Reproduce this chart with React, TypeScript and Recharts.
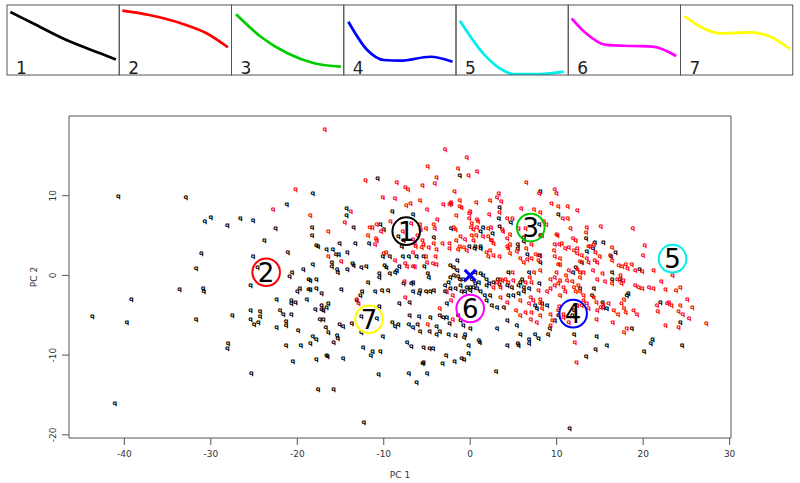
import React from 'react';
import { ScatterChart, Scatter, XAxis, YAxis, ReferenceArea, LineChart, Line } from 'recharts';

// ---- top panel curves: [x fraction, y fraction] ----
const curve1: number[][] = [[0.03, 0.9], [0.23, 0.74], [0.53, 0.5], [0.83, 0.31], [0.97, 0.22]];
const curve2: number[][] = [[0.03, 0.92], [0.27, 0.857], [0.57, 0.729], [0.78, 0.596], [0.97, 0.396]];
const curve3: number[][] = [[0.036, 0.867], [0.256, 0.547], [0.494, 0.31], [0.732, 0.167], [0.97, 0.119]];
const curve4: number[][] = [[0.039, 0.761], [0.207, 0.357], [0.355, 0.214], [0.503, 0.204], [0.769, 0.261], [0.967, 0.19]];
const curve5: number[][] = [[0.035, 0.776], [0.242, 0.31], [0.39, 0.096], [0.508, 0.014], [0.745, 0.014], [0.96, 0.047]];
const curve6: number[][] = [[0.032, 0.81], [0.16, 0.596], [0.34, 0.429], [0.577, 0.414], [0.755, 0.404], [0.964, 0.271]];
const curve7: number[][] = [[0.03, 0.843], [0.172, 0.69], [0.35, 0.596], [0.619, 0.61], [0.797, 0.547], [0.97, 0.371]];
const panelCurves = [curve1, curve2, curve3, curve4, curve5, curve6, curve7];
const clusterIds = ['1', '2', '3', '4', '5', '6', '7'];
const clusterColors = ['#000000', '#ff0000', '#00cd00', '#0000ff', '#00eeee', '#ff00ff', '#ffff00'];

// ---- cluster centre annotations (PC1, PC2) ----
const centreX = [-7.4, -23.6, 7.0, 11.9, 23.4, 0.0, -11.7];
const centreY = [5.55, 0.4, 6.0, -4.8, 2.1, -4.15, -5.5];
const originX = [0];
const originY = [0];

// ---- axis ticks ----
const xTicks = [-40, -30, -20, -10, 0, 10, 20, 30];
const yTicks = [-20, -10, 0, 10];

// ---- scores: group A (black) ----
const blackPts: number[][] = [
  [-40.7, 9.9], [-32.9, 9.8], [-30.7, 6.8], [-30.0, 7.2], [-28.1, 6.2], [-26.6, 7.1], [-25.1, 6.9], [-23.8, 4.4], [-31.1, 2.7], [-31.7, 0.9], [-25.1, 2.4], [-24.6, 1.0], [-33.6, -1.8], [-30.9, -1.7], [-30.8, -2.0], [-39.2, -3.0], [-25.4, -1.3],
  [-43.7, -5.2], [-39.7, -5.9], [-31.7, -5.6], [-27.5, -5.0], [-25.4, -4.4], [-25.4, -5.6], [-25.0, -6.2], [-24.5, -5.9], [-24.3, -4.6], [-24.3, -5.2], [-28.0, -8.6], [-28.1, -9.2], [-25.3, -12.3], [-41.1, -16.1],
  [-18.2, 10.2], [-21.2, 8.9], [-22.5, 5.9], [-18.3, 6.0], [-18.3, 5.0], [-17.8, 3.7], [-14.3, 8.4], [-14.3, 7.5], [-13.5, 6.0], [-15.1, 4.0], [-13.3, 4.0], [-10.7, 12.1], [-9.0, 8.0], [-6.6, 7.6], [-10.4, 6.3], [-10.0, 5.7], [-8.3, 4.8], [-4.2, 4.7], [-11.7, 4.0],
  [-21.1, 2.9], [-17.6, 3.6], [-16.6, 3.2], [-15.9, 3.2], [-15.5, 2.6], [-15.2, 2.6], [-14.2, 2.8], [-16.0, 1.6], [-16.0, 1.1], [-15.4, 0.7], [-15.3, 0.4], [-14.2, 0.7], [-13.6, 1.5], [-13.5, 1.2], [-12.6, 1.0], [-12.0, 1.1], [-18.2, 1.3], [-20.6, 0.3], [-20.9, -0.2], [-19.3, 0.7], [-18.7, -0.5], [-18.5, -0.7], [-17.8, -0.6], [-19.7, -1.7], [-20.0, -2.1], [-18.7, -1.8], [-18.5, -1.8], [-17.8, -1.7], [-17.2, -2.3], [-14.9, -1.8], [-12.7, -2.6], [-12.5, -2.1], [-11.8, -0.9], [-10.5, 0.2], [-10.5, -0.3], [-9.7, 1.0], [-9.9, 1.2], [-9.3, 0.2], [-8.7, 0.4], [-8.5, 0.6], [-8.2, 1.1], [-10.1, 2.4], [-9.3, 2.4], [-7.8, 2.4], [-7.1, 2.4], [-6.2, 2.4], [-5.3, 1.1], [-4.9, 0.2], [-4.8, -0.3], [-5.4, 2.4], [-7.7, 4.4], [-7.9, 3.6], [-1.2, 12.5], [-2.2, 9.0], [3.4, 8.5],
  [-22.4, -3.1], [-20.7, -3.2], [-20.7, -3.6], [-20.2, -3.4], [-18.9, -3.1], [-17.2, -3.8], [-16.4, -3.5], [-13.1, -3.2], [-8.2, -3.5], [-7.0, -3.4], [-6.6, -2.1], [-5.9, -2.3], [-5.1, -2.1], [-4.6, -2.1], [-4.2, -1.9], [-11.0, -2.1], [-10.2, -1.9], [-9.5, -1.9], [-7.7, -1.1], [-6.8, -1.1], [-6.6, -0.9], [-5.8, -1.9], [-16.6, -4.0],
  [-22.4, -6.5], [-22.0, -4.4], [-21.6, -4.9], [-20.7, -4.9], [-21.3, -5.8], [-21.3, -6.3], [-19.9, -7.0], [-21.3, -8.8], [-20.5, -10.8], [-19.6, -8.8], [-18.5, -8.6], [-18.2, -7.7], [-17.8, -8.1], [-17.9, -4.3], [-17.2, -4.3], [-17.0, -4.4], [-17.4, -5.6], [-17.0, -5.6], [-16.7, -6.5], [-16.4, -7.2], [-15.8, -8.5], [-15.4, -7.6], [-15.3, -7.9], [-16.6, -10.1], [-17.8, -10.6], [-15.1, -6.2], [-14.7, -6.4], [-13.7, -6.1], [-12.6, -5.2], [-12.6, -7.2], [-10.8, -5.4], [-10.5, -3.9], [-10.1, -7.7], [-12.4, -9.1], [-11.3, -9.6], [-11.5, -10.1], [-10.4, -9.6], [-8.7, -6.4], [-8.3, -6.2], [-9.0, -5.9], [-7.1, -6.2], [-6.6, -6.5], [-6.1, -6.2], [-5.8, -7.1], [-4.7, -7.1], [-7.3, -8.5], [-6.8, -8.9], [-5.4, -9.1], [-4.7, -9.2], [-4.3, -9.2], [-5.4, -11.0], [-3.9, -6.4], [-3.9, -7.4], [-7.0, -5.1], [-5.9, -5.2], [-4.6, -5.3],
  [-17.6, -14.3], [-15.8, -14.4], [-12.3, -18.5], [-10.6, -12.4], [-7.1, -12.3], [-5.0, -12.3], [-6.2, -13.5], [-5.5, -11.1], [-3.2, -11.1], [-1.8, -10.8], [-2.8, -10.1], [-1.0, -10.4], [-0.7, -10.6], [-0.2, -9.8], [3.0, -12.1], [-16.5, -10.2], [-14.7, -10.4],
  [11.5, -19.2], [13.4, -10.2], [20.1, -9.6], [24.5, -8.8], [14.5, -9.3], [15.8, -8.8], [20.9, -8.6], [21.1, -8.1], [14.6, -7.7], [9.0, -7.5], [7.5, -7.4], [7.9, -7.9], [6.8, -8.1], [6.8, -8.6], [18.7, -6.7], [24.3, -5.9], [22.0, -3.4], [12.0, -7.4],
  [8.1, 10.5], [10.2, 7.6], [3.3, 7.1], [3.4, 6.1], [4.7, 6.6], [-2.2, 5.9], [1.5, 6.0], [1.2, 5.5], [2.6, 5.2], [6.2, 4.7], [8.0, 6.4], [13.4, 4.6], [14.4, 4.1], [15.4, 4.1], [-0.1, 3.6], [0.6, 3.6], [1.2, 3.6], [5.5, 3.8], [6.2, 4.2], [8.1, 5.0],
  [16.3, 2.4], [16.8, 2.8], [18.3, -2.3], [18.1, -2.6],
  [0.5, 3.4], [1.2, 3.3], [5.5, 3.3], [6.6, 2.6], [8.0, 2.5], [8.1, 1.6], [12.9, 1.6], [13.5, 3.0], [14.2, 3.3], [19.6, 0.7], [16.4, 0.3], [17.3, -0.5], [16.4, -0.5], [11.9, 0.4], [12.2, 1.0], [6.8, 0.4], [6.0, -0.5], [5.8, -0.9], [6.2, -1.5], [5.6, -1.3], [8.0, -1.1], [4.4, 0.4], [3.2, -0.5], [3.4, -1.2], [4.3, -1.3], [4.8, -1.5],
  [1.2, 0.2], [1.5, 0.0], [1.9, -0.5], [2.2, -1.1], [2.7, -0.9], [1.9, -1.3], [0.6, 0.4], [0.2, -0.5], [0.6, -1.0], [1.0, -0.9], [0.4, -1.5], [0.0, -1.5], [-0.4, -1.5], [0.8, -1.7], [-1.5, 1.8], [-2.3, 1.2], [-1.9, 1.0], [-1.5, 0.6], [-1.9, 0.0], [-2.3, -0.3], [-1.4, -0.1], [-1.2, -0.5], [-0.8, -0.5], [-2.5, -0.9], [-2.9, -1.3], [-1.1, -1.3], [-1.7, -1.7], [-2.3, -1.7],
  [-2.9, -2.1], [-2.7, -3.6], [-1.0, -2.1], [-0.6, -2.1], [0.0, -1.9], [1.2, -2.1], [1.7, -2.5], [2.3, -2.6], [1.9, -3.2], [2.5, -3.8], [3.1, -4.0], [3.9, -4.0], [4.4, -2.6], [5.0, -2.6], [5.6, -2.3], [6.2, -2.1], [6.8, -1.7], [7.5, -3.8], [7.7, -4.2], [8.3, -3.5], [8.9, -3.8], [12.7, -1.7], [11.8, -5.1], [12.0, -4.4], [14.3, -1.7], [14.1, -2.6], [15.3, -3.4], [15.4, -4.0], [15.8, -4.2],
  [-3.5, -5.1], [-3.1, -5.3], [-2.7, -5.3], [-2.4, -6.1], [-2.5, -7.4], [-3.5, -7.1], [-1.4, -5.1], [-1.1, -5.7], [-0.8, -6.3], [-0.6, -7.5], [-0.7, -7.8], [-1.7, -7.6], [0.0, -6.7], [1.0, -8.2], [1.1, -8.4], [-0.2, -8.8], [3.1, -6.7], [4.3, -5.7], [5.4, -6.3], [5.8, -7.4], [5.5, -8.6], [5.6, -8.8], [4.3, -8.8], [10.2, -5.1], [9.8, -5.7], [9.2, -6.7],
];

// ---- scores: group B (red) ----
const redPts: number[][] = [
  [-16.8, 18.3], [-20.2, 10.7], [-22.8, 8.2], [-18.5, 7.5], [-16.4, 5.5], [-13.8, 8.0], [-14.5, 6.6], [-12.1, 11.9], [-10.1, 9.8], [-8.7, 9.6], [-8.5, 11.6], [-7.5, 11.0], [-7.2, 10.8], [-6.9, 9.0], [-5.8, 9.4], [-5.5, 11.3], [-4.9, 13.6], [-3.9, 12.2], [-4.1, 11.5], [-5.0, 8.3], [-3.8, 7.0], [-11.6, 6.0], [-11.3, 6.0], [-10.8, 6.3], [-10.3, 5.5], [-9.2, 6.7], [-11.8, 5.0], [-10.8, 4.4], [-7.8, 5.5], [-5.8, 6.3], [-5.7, 5.7], [-5.1, 5.9], [-4.2, 6.3], [-4.1, 5.9], [-6.1, 5.0], [-11.0, 3.9], [-6.4, 4.0], [-5.4, 3.8], [-4.2, 4.0],
  [-16.4, 2.4], [-14.9, 1.7], [-10.9, 4.6], [-8.7, 1.8], [-9.7, 2.8], [-10.0, 2.7], [-6.6, 2.9], [-7.5, 1.5], [-7.3, 1.1], [-6.6, 1.1], [-6.4, 1.1], [-5.0, 1.6], [-4.3, 1.5], [-3.9, 1.3], [-5.1, 2.3], [-4.0, 2.4], [-3.9, 3.2], [-4.8, 3.5], [-5.6, 3.5], [-5.5, 4.3], [-6.3, 3.6], [-6.6, 4.5], [-6.8, 6.5], [-7.4, 8.8],
  [-2.9, 15.8], [-0.4, 14.8], [-1.4, 13.4], [-0.2, 12.5], [0.8, 13.0], [-1.8, 10.5], [-3.1, 8.9], [-2.4, 8.9], [-2.2, 9.1], [-1.2, 8.6], [-1.0, 8.5], [-1.2, 9.4], [-0.1, 7.8], [0.7, 9.1], [2.3, 9.4], [3.1, 9.8], [3.3, 10.3], [3.6, 9.3], [6.5, 11.6],
  [-12.9, -3.6], [-7.5, -2.8], [-7.6, -0.8], [-4.9, -6.2], [-3.5, -4.2], [-2.0, -5.6], [5.3, -4.4], [4.3, -3.4], [-13.1, -3.0],
  [8.0, 10.3], [9.8, 10.7], [10.0, 10.3], [9.4, 9.0], [10.2, 8.6], [11.3, 8.6], [12.4, 8.1], [10.7, 7.1], [11.3, 7.1], [5.9, 8.4], [7.4, 8.2], [8.1, 7.9], [2.2, 7.6], [0.0, 8.0], [0.8, 7.0], [0.9, 6.7], [-0.1, 7.1], [0.2, 6.5], [4.3, 7.1], [4.9, 7.1], [-1.9, 6.0], [-1.7, 5.7], [-1.1, 4.8], [-0.6, 4.5], [0.1, 6.0], [0.4, 5.7], [0.8, 6.0], [2.1, 5.9], [2.4, 6.0], [0.2, 5.0], [0.7, 5.0], [0.4, 4.4], [3.7, 5.7], [3.8, 5.5], [2.5, 4.4], [2.7, 4.0],
  [6.4, 5.9], [8.5, 6.7], [8.8, 6.3], [8.3, 5.0], [10.0, 5.1], [10.1, 5.0], [9.8, 3.9], [10.3, 3.8], [10.6, 4.0], [11.6, 5.9], [11.9, 4.6], [12.2, 4.4], [13.5, 6.0], [13.4, 5.4], [15.1, 6.1], [18.8, 5.8], [14.3, 3.9], [13.9, 3.6], [13.7, 3.6], [20.2, 3.7], [-3.2, 4.0], [-2.4, 4.0], [-1.6, 4.3], [-1.2, 3.6], [4.3, 3.6], [4.6, 3.8], [7.1, 3.9], [1.5, 4.9], [2.1, 4.8], [2.4, 4.4], [3.4, 7.9], [4.3, 4.6], [4.6, 5.1], [5.6, 5.9], [-1.6, 7.5],
  [-2.4, 3.3], [-1.4, 3.2], [-0.4, 3.1], [-0.7, 3.5], [1.9, 2.9], [2.3, 3.1], [2.7, 2.5], [3.4, 2.3], [2.1, 2.4], [4.4, 3.4], [4.6, 2.7], [5.4, 3.0], [6.5, 3.3], [5.8, 2.1], [6.2, 1.6], [6.6, 2.0], [7.1, 2.1], [7.6, 2.6], [7.9, 1.8], [8.1, 2.5], [9.7, 3.1], [9.8, 2.3], [10.4, 2.1], [10.2, 1.3], [11.0, 3.3], [11.4, 3.5], [12.0, 3.1], [12.4, 3.3], [12.4, 2.7], [12.9, 2.5], [12.7, 1.7], [13.5, 2.1], [13.7, 1.6], [14.4, 1.8], [14.5, 2.8], [14.7, 1.6], [15.0, 2.3], [16.2, 2.5], [16.4, 1.8], [17.2, 1.2], [17.6, 1.1], [18.0, 1.3], [18.7, 1.4], [16.4, 3.5], [20.0, 2.5], [19.9, 0.5], [19.1, 0.6], [23.4, 0.0],
  [17.4, 0.0], [17.7, -0.7], [18.2, 0.9], [14.2, 0.6], [15.3, 0.2], [14.7, -0.5], [15.6, -0.8], [12.4, 0.7], [12.7, 0.4], [13.1, 0.3], [12.7, -0.3], [11.4, 0.6], [11.1, 0.0], [11.2, -0.7], [11.8, -0.8], [12.5, -1.3], [10.0, 0.4], [9.8, -0.3], [9.3, -0.5], [10.4, -0.7], [10.4, 1.4], [8.1, 0.6], [7.4, 0.3], [6.9, -0.3], [7.1, -0.9], [6.4, -0.9], [4.9, 0.4], [5.0, -0.7], [4.4, -0.9], [4.1, -0.5], [3.5, -0.5], [3.1, -0.9], [3.5, -1.5], [3.7, -0.7], [2.7, -1.5],
  [-2.7, -2.1], [-2.0, -2.5], [-2.2, -3.2], [3.5, -2.8], [7.0, -2.8], [7.3, -3.2], [8.1, -3.0], [5.8, -3.2], [7.9, -1.9], [8.9, -2.1], [9.3, -1.7], [9.8, -1.3], [10.2, -1.1], [10.8, -1.5], [11.0, -2.1], [10.4, -2.6], [12.0, -1.5], [12.2, -2.1], [12.7, -2.1], [13.1, -2.6], [13.1, -3.2], [13.5, -3.6], [12.9, -3.8], [13.7, -4.2], [12.4, -3.8], [14.3, -2.8], [14.6, -3.4], [14.7, -4.4], [17.8, -3.0], [25.1, -3.0],
  [7.0, -5.5], [7.1, -4.7], [8.1, -5.1], [9.3, -4.9], [9.5, -5.7], [9.3, -6.3], [5.8, -5.1], [6.4, -4.7], [6.8, -3.6], [10.2, -4.4], [10.8, -4.9], [10.8, -5.3], [11.4, -5.9], [8.1, -3.6], [8.3, -4.2], [7.7, -5.9], [10.3, -3.9], [16.0, -3.5],
  [22.1, -0.8], [22.6, -1.8], [23.8, -1.9], [21.2, 0.6], [20.7, -1.6], [21.2, -1.7], [19.1, -1.3], [19.5, -1.5], [19.9, -1.7], [17.5, -1.1], [17.0, -0.5], [16.4, -1.1], [24.3, -1.6],
  [12.3, -10.9], [12.1, -8.4], [17.8, -7.2], [18.1, -6.7], [16.5, -5.9], [14.6, -5.5], [22.6, -6.3], [24.1, -6.5], [27.3, -6.0], [25.3, -5.4], [24.6, -4.9], [24.1, -4.6], [24.3, -3.8], [25.7, -4.0], [23.3, -3.8], [22.8, -3.6], [23.0, -3.4], [21.7, -4.5], [21.6, -3.8], [19.3, -4.9], [18.9, -4.4], [18.0, -4.7], [17.8, -4.2], [17.1, -4.9], [16.6, -4.4], [17.5, -3.5], [15.1, -4.1], [15.4, -3.7],
];

const FONT = '"DejaVu Sans", Verdana, sans-serif';
const toXY = (pts: number[][]) => pts.map(([x, y]) => ({ x, y }));
const blackData = toXY(blackPts);
const redData = toXY(redPts);
const centreData = centreX.map((x, i) => ({ x, y: centreY[i], id: clusterIds[i], color: clusterColors[i] }));
const originData = originX.map((x, i) => ({ x, y: originY[i] }));

const qShape = (color: string) => (props: any) => {
  const { cx, cy } = props;
  if (cx == null || cy == null) return <g />;
  return (
    <text x={cx} y={cy} dy="0.2em" textAnchor="middle" fontSize={6.5} fontWeight="bold" fontFamily={FONT} fill={color}>q</text>
  );
};

const centreShape = (props: any) => {
  const { cx, cy, payload } = props;
  return (
    <g>
      <circle cx={cx} cy={cy} r={13.8} fill="none" stroke={payload.color} strokeWidth={2} />
      <text x={cx} y={cy} dy="0.36em" textAnchor="middle" fontSize={26} fontFamily={FONT} fill="#000">{payload.id}</text>
    </g>
  );
};

const crossShape = (props: any) => {
  const { cx, cy } = props;
  const h = 5.5;
  return (
    <g stroke="#0000ff" strokeWidth={3}>
      <line x1={cx - h} y1={cy - h} x2={cx + h} y2={cy + h} />
      <line x1={cx - h} y1={cy + h} x2={cx + h} y2={cy - h} />
    </g>
  );
};

const YTick = (props: any) => {
  const { x, y, payload } = props;
  return (
    <g transform={`translate(${x},${y})`}>
      <text transform="rotate(-90)" x={0} y={-5.7} textAnchor="middle" fontSize={9} fontFamily={FONT} fill="#333">{payload.value}</text>
    </g>
  );
};

const PANEL_W = 112.25;

export default function App() {
  return (
    <div style={{ position: 'relative', width: 800, height: 483, background: '#fff', overflow: 'hidden' }}>
      <style>{'body{margin:0}'}</style>
      {panelCurves.map((c, i) => (
        <div key={i} style={{ position: 'absolute', left: 7 + i * PANEL_W, top: 5, width: PANEL_W, height: 70 }}>
          <LineChart width={PANEL_W} height={70} data={c.map(([x, y]) => ({ x, y }))} margin={{ top: 0, right: 0, bottom: 0, left: 0 }}>
            <XAxis dataKey="x" type="number" domain={[0, 1]} hide />
            <YAxis type="number" domain={[0, 1]} hide />
            <Line type="monotone" dataKey="y" stroke={clusterColors[i]} strokeWidth={2.7} dot={false} isAnimationActive={false} />
          </LineChart>
        </div>
      ))}
      <div style={{ position: 'absolute', left: 0, top: 0 }}>
        <ScatterChart width={800} height={483} margin={{ top: 116, right: 69, bottom: 0, left: 0 }}>
          <XAxis
            dataKey="x" type="number" domain={[-46.4, 30.16]} ticks={xTicks} interval={0}
            allowDataOverflow height={45} axisLine={false} tickSize={7} tickMargin={6}
            tickLine={{ stroke: '#555' }} tick={{ fontSize: 9, fill: '#333', fontFamily: FONT }}
          />
          <YAxis
            dataKey="y" type="number" domain={[-20.4, 20]} ticks={yTicks} interval={0}
            allowDataOverflow width={69} axisLine={false} tickSize={7} tickMargin={0}
            tickLine={{ stroke: '#555' }} tick={<YTick />}
          />
          <ReferenceArea x1={-46.4} x2={30.16} y1={-20.4} y2={20} fill="none" stroke="#555" strokeWidth={1} ifOverflow="visible" />
          <Scatter data={blackData} shape={qShape('#000')} isAnimationActive={false} />
          <Scatter data={redData} shape={qShape('#ff0000')} isAnimationActive={false} />
          <Scatter data={originData} shape={crossShape} isAnimationActive={false} />
          <Scatter data={centreData} shape={centreShape} isAnimationActive={false} />
        </ScatterChart>
      </div>
      <svg width={800} height={483} style={{ position: 'absolute', left: 0, top: 0, pointerEvents: 'none' }}>
        {clusterIds.map((id, i) => (
          <g key={id}>
            <rect x={7 + i * PANEL_W} y={5} width={PANEL_W} height={70} fill="none" stroke="#555" strokeWidth={1} />
            <text x={7 + i * PANEL_W + 9} y={74} fontSize={17} fontFamily={FONT} fill="#222">{id}</text>
          </g>
        ))}
        <text x={400} y={478} textAnchor="middle" fontSize={9} fontFamily={FONT} fill="#333">PC 1</text>
        <g transform="translate(36.7,277)">
          <text transform="rotate(-90)" textAnchor="middle" fontSize={9} fontFamily={FONT} fill="#333">PC 2</text>
        </g>
      </svg>
    </div>
  );
}
